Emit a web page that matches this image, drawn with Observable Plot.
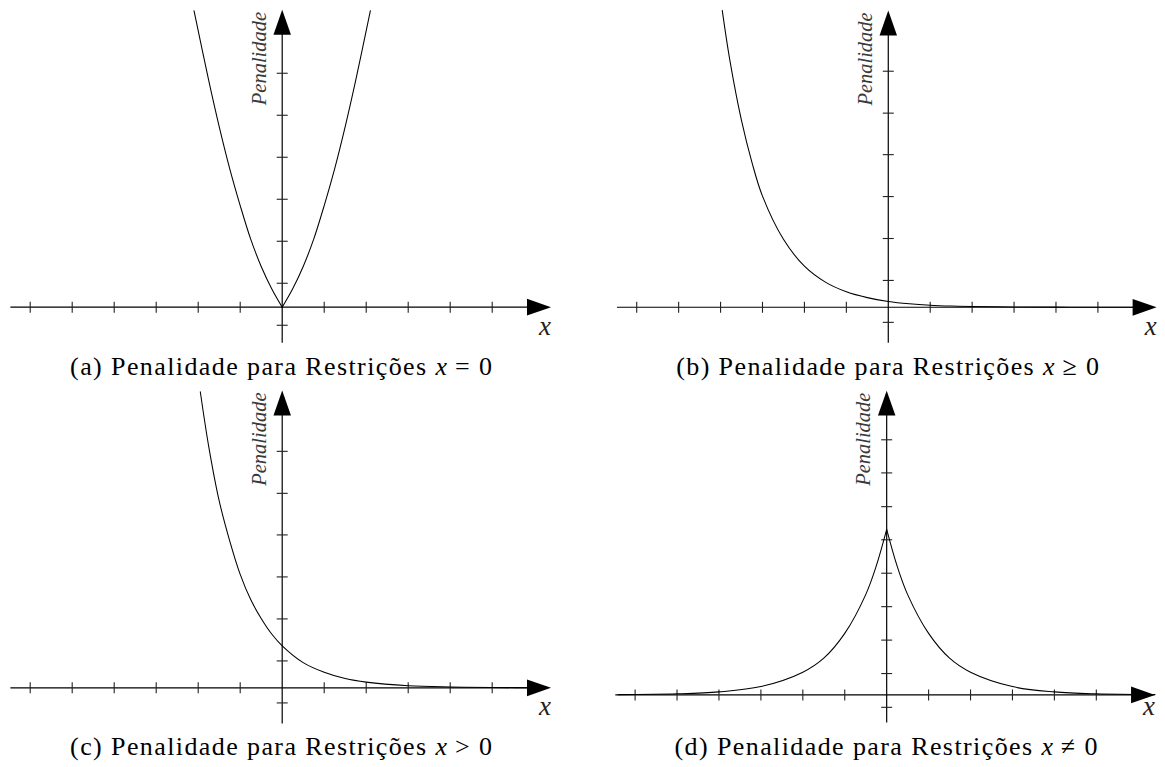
<!DOCTYPE html>
<html>
<head>
<meta charset="utf-8">
<script src="https://cdn.jsdelivr.net/npm/d3@7"></script>
<script src="https://cdn.jsdelivr.net/npm/@observablehq/plot@0.6"></script>
<style>
  html, body { margin: 0; padding: 0; background: #fff; }
  body { width: 1165px; height: 767px; position: relative; overflow: hidden; font-family: "Liberation Serif", serif; }
  .panel { position: absolute; }
  .cap { position: absolute; font-size: 26px; line-height: 26px; text-align: center; white-space: nowrap; letter-spacing: 1.4px; color: #000; font-family: "Liberation Serif", serif; }
  .cap i { letter-spacing: 0; }
</style>
</head>
<body>
<script>
// ---------- data ----------
const xTicks = [-6, -5, -4, -3, -2, -1, 1, 2, 3, 4, 5];
const yTicksA = [-0.43, 0.57, 1.57, 2.57, 3.57, 4.57, 5.57];
const yTicksB = [-0.36, 0.64, 1.64, 2.64, 3.64, 4.63, 5.63];
const yTicksC = [-0.36, 0.64, 1.64, 2.64, 3.64, 4.63, 5.63];
const yTicksD = [-0.37, 0.64, 1.64, 2.64, 3.64, 4.64, 5.63, 6.64, 7.63];

// (a) x = 0
const xA = [-2.1, -1.75, -1.5, -1.25, -1.0, -0.75, -0.5, -0.25, 0, 0.25, 0.5, 0.75, 1.0, 1.25, 1.5, 1.75, 2.1];
const yA = [7.06, 5.4, 4.3, 3.3, 2.42, 1.62, 0.97, 0.44, 0, 0.44, 0.97, 1.62, 2.42, 3.3, 4.3, 5.4, 7.06];
// (b) x >= 0
const xB = [-3.96, -3.78, -3.5, -3.25, -3, -2.5, -2, -1.5, -1, -0.5, 0, 0.5, 1, 1.5, 2, 3, 4, 5, 6.3];
const yB = [7.08, 5.9, 4.45, 3.45, 2.65, 1.62, 0.98, 0.6, 0.37, 0.23, 0.14, 0.085, 0.05, 0.03, 0.019, 0.007, 0.003, 0.001, 0];
// (c) x > 0
const xC = [-1.95, -1.75, -1.5, -1.25, -1, -0.75, -0.5, -0.25, 0, 0.5, 1, 1.5, 2, 3, 4, 5, 6.3];
const yC = [7.05, 5.75, 4.45, 3.5, 2.7, 2.1, 1.65, 1.28, 1.0, 0.6, 0.37, 0.22, 0.135, 0.05, 0.02, 0.007, 0.002];
// (d) x != 0
const xD = [-6.4, -5, -4, -3, -2, -1.5, -1, -0.5, -0.25, 0, 0.25, 0.5, 1, 1.5, 2, 3, 4, 5, 6.4];
const yD = [0.01, 0.034, 0.092, 0.25, 0.68, 1.1, 1.84, 3.0, 3.85, 4.95, 3.85, 3.0, 1.84, 1.1, 0.68, 0.25, 0.092, 0.034, 0.01];

const captionTexts = ["(a) Penalidade para Restrições", "(b) Penalidade para Restrições", "(c) Penalidade para Restrições", "(d) Penalidade para Restrições"];
const relations = ["=", "≥", ">", "≠"];
const yLabel = "Penalidade";
const xLabel = "x";

// ---------- layout ----------
const xMin = -6.46, xMax = 6.4;
const unit = 42;
const panels = [
  {left: 0,   top: 0,   ox: 281.7, oy: 306.7, yUnit: 42,   yMin: -0.86, yMax: 7.08, xDy: 19, split: true,  xs: xA, ys: yA, ticks: yTicksA, capBase: 376},
  {left: 583, top: 0,   ox: 305.3, oy: 307.3, yUnit: 42,   yMin: -0.86, yMax: 7.08, xDy: 19, split: false, xs: xB, ys: yB, ticks: yTicksB, capBase: 376},
  {left: 0,   top: 380, ox: 281.7, oy: 307.3, yUnit: 42,   yMin: -0.86, yMax: 7.08, xDy: 19, split: false, xs: xC, ys: yC, ticks: yTicksC, capBase: 376},
  {left: 583, top: 380, ox: 303.7, oy: 315,   yUnit: 33.5, yMin: -0.84, yMax: 9.1,  xDy: 11, split: true,  xs: xD, ys: yD, ticks: yTicksD, capBase: 376}
];

// custom symbols
const vTick = {draw(ctx, size) { const r = Math.sqrt(size / Math.PI); ctx.moveTo(0, -r); ctx.lineTo(0, r); }};
const hTick = {draw(ctx, size) { const r = Math.sqrt(size / Math.PI); ctx.moveTo(-r, 0); ctx.lineTo(r, 0); }};
const arrowRight = {draw(ctx, size) { const r = Math.sqrt(size / Math.PI); ctx.moveTo(0, 0); ctx.lineTo(-r, -0.35 * r); ctx.lineTo(-r, 0.35 * r); ctx.closePath(); }};
const arrowUp = {draw(ctx, size) { const r = Math.sqrt(size / Math.PI); ctx.moveTo(0, 0); ctx.lineTo(-0.35 * r, r); ctx.lineTo(0.35 * r, r); ctx.closePath(); }};

panels.forEach((p, i) => {
  const data = p.xs.map((x, k) => ({x, y: p.ys[k]}));
  const lineOpts = {x: "x", y: "y", curve: "catmull-rom", stroke: "black", strokeWidth: 1.05};
  const curveMarks = p.split
    ? [Plot.line(data.filter(d => d.x <= 0), lineOpts), Plot.line(data.filter(d => d.x >= 0), lineOpts)]
    : [Plot.line(data, lineOpts)];

  const chart = Plot.plot({
    width: 583,
    height: 350,
    margin: 0,
    x: {domain: [xMin, xMax], range: [p.ox + xMin * unit, p.ox + xMax * unit], axis: null},
    y: {domain: [p.yMin, p.yMax], range: [p.oy - p.yMin * p.yUnit, p.oy - p.yMax * p.yUnit], axis: null},
    marks: [
      Plot.ruleY([0], {x1: xMin, x2: xMax - 0.3, stroke: "black", strokeWidth: 1.2}),
      Plot.ruleX([0], {y1: p.yMin, y2: p.yMax - 0.3, stroke: "black", strokeWidth: 1.2}),
      Plot.dot(xTicks, {x: d => d, y: 0, symbol: vTick, r: 5.5, stroke: "#222", strokeWidth: 1.1, fill: "none"}),
      Plot.dot(p.ticks, {x: 0, y: d => d, symbol: hTick, r: 5.5, stroke: "#222", strokeWidth: 1.1, fill: "none"}),
      ...curveMarks,
      Plot.dot([xMax], {x: d => d, y: 0, symbol: arrowRight, r: 24, fill: "black", stroke: "none"}),
      Plot.dot([p.yMax], {x: 0, y: d => d, symbol: arrowUp, r: 25, fill: "black", stroke: "none"}),
      Plot.text([yLabel], {x: 0, y: p.yMax, text: d => d, rotate: -90, textAnchor: "end", lineAnchor: "middle",
        dx: -23, dy: 2, fontFamily: "Liberation Serif", fontStyle: "italic", fontSize: 20.5, fill: "#3a3a3a"}),
      Plot.text([xLabel], {x: xMax, y: 0, text: d => d, textAnchor: "middle", lineAnchor: "middle",
        dx: -6, dy: p.xDy, fontFamily: "Liberation Serif", fontStyle: "italic", fontSize: 27, fill: "#222"})
    ]
  });

  const holder = document.createElement("div");
  holder.className = "panel";
  holder.style.left = p.left + "px";
  holder.style.top = p.top + "px";
  holder.appendChild(chart);
  document.body.appendChild(holder);

  const cap = document.createElement("div");
  cap.className = "cap";
  cap.style.left = (p.left + p.ox - 300) + "px";
  cap.style.width = "600px";
  cap.style.top = (p.top + p.capBase - 21.8) + "px";
  cap.innerHTML = `${captionTexts[i]} <i>x</i> ${relations[i]} 0`;
  document.body.appendChild(cap);
});
</script>
</body>
</html>
